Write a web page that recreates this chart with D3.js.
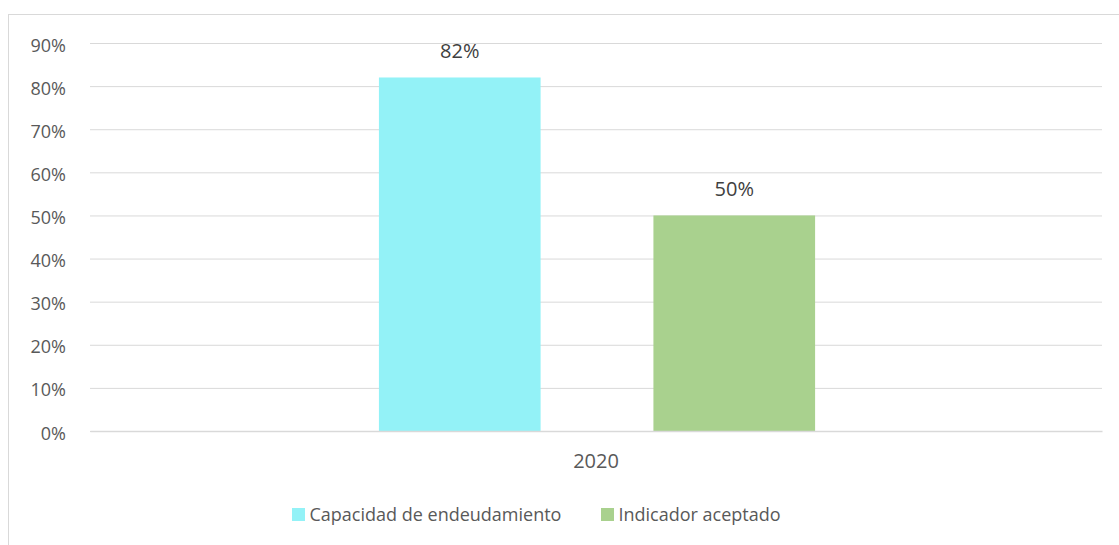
<!DOCTYPE html>
<html><head><meta charset="utf-8">
<script src="https://cdn.jsdelivr.net/npm/d3@7"></script>
<style>body{margin:0;background:#fff;}svg{display:block;font-family:"Open Sans",sans-serif;}</style>
</head><body><svg id="c" width="1119" height="545"></svg>
<script>
const categories = ["2020"];
const seriesNames = ["Capacidad de endeudamiento", "Indicador aceptado"];
const seriesValues = [[0.82], [0.50]];
const seriesColors = ["#93F2F7", "#A9D18E"];
const yTicks = [0,0.1,0.2,0.3,0.4,0.5,0.6,0.7,0.8,0.9];

const svg = d3.select("#c");
const W = 1119, H = 545;
const m = {left: 90, right: 17, top: 43, bottom: 114};
const iw = W - m.left - m.right, ih = H - m.top - m.bottom;

svg.append("rect").attr("x", 8.5).attr("y", 14.5).attr("width", W + 10).attr("height", H + 10)
  .attr("fill", "#fff").attr("stroke", "#D9D9D9").attr("stroke-width", 1);

const g = svg.append("g").attr("transform", `translate(${m.left},${m.top})`);
const y = d3.scaleLinear().domain([0, 0.9]).range([ih, 0]);
const x0 = d3.scaleBand().domain(categories).range([0, iw]);
const x1 = d3.scaleBand().domain(d3.range(seriesNames.length)).range([x0.bandwidth()*0.2855, x0.bandwidth()*0.7165]).paddingInner(0.411);

const yAxis = d3.axisLeft(y).tickValues(yTicks).tickSize(-iw).tickPadding(24).tickFormat(d3.format(".0%"));
const ya = g.append("g").call(yAxis);
ya.select(".domain").remove();
ya.selectAll(".tick line").attr("stroke", "#D9D9D9").attr("stroke-width", 1);
ya.selectAll(".tick text").attr("fill", "#595959").attr("font-size", 18).attr("dy", "0.45em").attr("font-family", "Open Sans, sans-serif");

categories.forEach((c, ci) => {
  seriesNames.forEach((s, si) => {
    const v = seriesValues[si][ci];
    const bx = x0(c) + x1(si);
    g.append("rect").attr("x", bx).attr("y", y(v)).attr("width", x1.bandwidth()).attr("height", ih - y(v))
      .attr("fill", seriesColors[si]);
    g.append("text").attr("x", bx + x1.bandwidth()/2).attr("y", y(v) - 19.5)
      .attr("text-anchor", "middle").attr("fill", "#404040").attr("font-size", 20)
      .text(d3.format(".0%")(v));
  });
});

const xa = g.append("g").attr("transform", `translate(0,${ih})`)
  .call(d3.axisBottom(x0).tickSize(0).tickPadding(0));
xa.select(".domain").attr("stroke", "#D9D9D9").attr("stroke-width", 1.5);
xa.selectAll(".tick text").attr("fill", "#595959").attr("font-size", 20).attr("dy", null).attr("y", 37)
  .attr("font-family", "Open Sans, sans-serif");

const legX = [292, 601];
const leg = svg.append("g");
seriesNames.forEach((s, i) => {
  leg.append("rect").attr("x", legX[i]).attr("y", 508).attr("width", 13).attr("height", 13).attr("fill", seriesColors[i]);
  leg.append("text").attr("x", legX[i] + 17.5).attr("y", 521).attr("fill", "#595959").attr("font-size", 18).text(s);
});
</script></body></html>
